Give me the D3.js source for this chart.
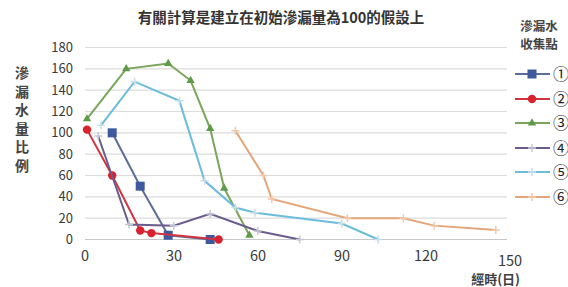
<!DOCTYPE html>
<html lang="zh-Hant">
<head>
<meta charset="utf-8">
<title>滲漏水量比例</title>
<script src="https://d3js.org/d3.v7.min.js"></script>
<style>
  body { margin: 0; background: #fff; }
  text { font-family: "Noto Sans CJK TC", "Noto Sans", sans-serif; fill: #333; }
</style>
</head>
<body>
<div id="chart"></div>
<script>
// data: [day, ratio]
const series1 = [[9, 100], [19, 50], [29, 4], [44, 0]];
const series2 = [[0, 103], [9, 60], [19, 8.5], [23, 6], [47, 0]];
const series3 = [[0, 113], [14, 160], [29, 165], [37, 149], [44, 104], [49, 48], [58, 4]];
const series4 = [[4, 97], [15, 14], [31, 13], [44, 24], [61, 8], [76, 0]];
const series5 = [[5, 107], [17, 148], [33, 130], [42, 55], [53, 30], [60, 25], [91, 15], [104, 0]];
const series6 = [[53, 102], [63, 60], [66, 38], [93, 20], [113, 20], [124, 13], [146, 9]];

const seriesNames = ["①", "②", "③", "④", "⑤", "⑥"];
const xTicks = [0, 30, 60, 90, 120, 150];
const yTicks = [0, 20, 40, 60, 80, 100, 120, 140, 160, 180];
const title = "有關計算是建立在初始滲漏量為100的假設上";
const yTitle = "滲漏水量比例";
const xTitle = "經時(日)";
const legendTitle = ["滲漏水", "收集點"];

const W = 568, H = 287;
const svg = d3.select("#chart").append("svg")
    .attr("width", W).attr("height", H);

const x = d3.scaleLinear().domain([0, 150]).range([87, 507]);
const y = d3.scaleLinear().domain([0, 180]).range([239.5, 47.5]);

// grid
svg.append("g").selectAll("line")
    .data(yTicks).enter().append("line")
    .attr("x1", 85).attr("x2", 507)
    .attr("y1", d => y(d)).attr("y2", d => y(d))
    .attr("stroke", d => d === 0 ? "#c8c8c8" : "#dcdcdc")
    .attr("stroke-width", 1.2);

// y tick labels
svg.append("g").selectAll("text")
    .data(yTicks).enter().append("text")
    .attr("x", 73).attr("y", d => y(d) + 4.5)
    .attr("text-anchor", "end")
    .style("font-size", "13px")
    .style("fill", "#3a3a3a")
    .text(d => d);

// x tick labels (the 150 sits a bit lower in the original)
svg.append("g").selectAll("text")
    .data(xTicks).enter().append("text")
    .attr("x", d => x(d) + (d === 0 ? -2 : 3))
    .attr("y", d => d === 150 ? 266 : 261)
    .attr("text-anchor", "middle")
    .style("font-size", "14.5px")
    .style("fill", "#3a3a3a")
    .text(d => d);

svg.append("text")
    .attr("x", 520).attr("y", 284)
    .attr("text-anchor", "end")
    .style("font-size", "13px").style("font-weight", "bold")
    .style("fill", "#404040")
    .text(xTitle);

// titles
svg.append("text")
    .attr("x", 281).attr("y", 23)
    .attr("text-anchor", "middle")
    .style("font-size", "14.5px").style("font-weight", "bold")
    .style("fill", "#333")
    .text(title);

svg.append("g").selectAll("text")
    .data(yTitle.split("")).enter().append("text")
    .attr("x", 22).attr("y", (d, i) => 78 + i * 18.5)
    .attr("text-anchor", "middle")
    .style("font-size", "14px").style("font-weight", "bold")
    .style("fill", "#444")
    .text(d => d);

svg.append("g").selectAll("text")
    .data(legendTitle).enter().append("text")
    .attr("x", 539).attr("y", (d, i) => 31 + i * 18)
    .attr("text-anchor", "middle")
    .style("font-size", "12.5px").style("font-weight", "bold")
    .style("fill", "#444")
    .text(d => d);

// styles per series
const allSeries = [series1, series2, series3, series4, series5, series6];
const lineColors = ["#5b6d98", "#cf3440", "#7aa65c", "#6a5c8c", "#6cbcdc", "#e4a57a"];
const markColors = ["#3f5a9c", "#d8232f", "#5f9a48", "#c8c8d4", "#c8dde6", "#f0c9ac"];
const markTypes = ["square", "circle", "triangle", "cross", "cross", "cross"];

function drawMarker(g, type, color) {
    if (type === "square") {
        g.append("rect").attr("x", -4.5).attr("y", -4.5)
            .attr("width", 9).attr("height", 9).attr("fill", color);
    } else if (type === "circle") {
        g.append("circle").attr("r", 4.2).attr("fill", color);
    } else if (type === "triangle") {
        g.append("path").attr("d", d3.symbol().type(d3.symbolTriangle).size(30))
            .attr("fill", color);
    } else {
        g.append("path").attr("d", "M-4,0H4M0,-4V4")
            .attr("stroke", color).attr("stroke-width", 1.5).attr("fill", "none");
    }
}

const line = d3.line().x(d => x(d[0])).y(d => y(d[1]));

allSeries.forEach((data, i) => {
    const g = svg.append("g");
    g.append("path")
        .datum(data)
        .attr("d", line)
        .attr("fill", "none")
        .attr("stroke", lineColors[i])
        .attr("stroke-width", 2);
    g.selectAll("g.pt")
        .data(data).enter().append("g")
        .attr("class", "pt")
        .attr("transform", d => `translate(${x(d[0])},${y(d[1])})`)
        .each(function () { drawMarker(d3.select(this), markTypes[i], markColors[i]); });
});

// legend
const legendY = [74, 99, 123, 148, 172, 197];
seriesNames.forEach((name, i) => {
    const g = svg.append("g").attr("transform", `translate(0,${legendY[i]})`);
    g.append("line").attr("x1", 515).attr("x2", 550)
        .attr("stroke", lineColors[i]).attr("stroke-width", 2);
    const m = g.append("g").attr("transform", "translate(532,0)");
    drawMarker(m, markTypes[i], markColors[i]);
    g.append("text")
        .attr("x", 561).attr("y", 5.5)
        .attr("text-anchor", "middle")
        .style("font-size", "16px")
        .style("fill", "#222")
        .text(name);
});
</script>
</body>
</html>
